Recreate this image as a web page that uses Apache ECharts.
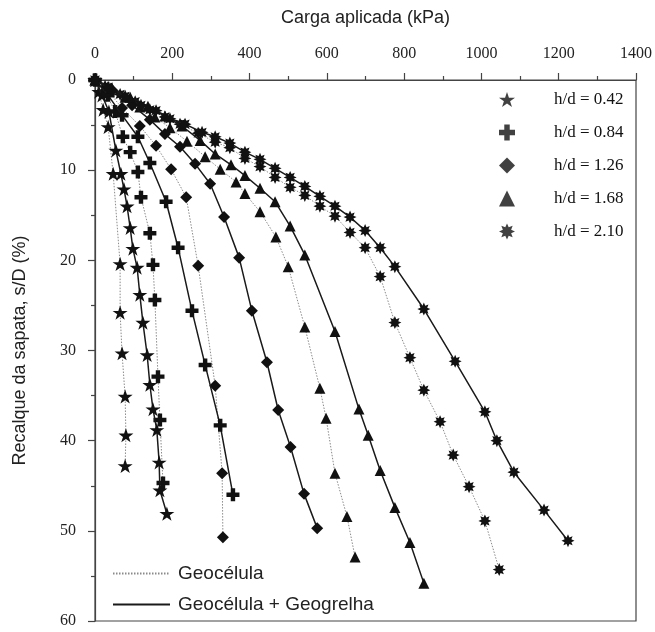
<!DOCTYPE html>
<html>
<head>
<meta charset="utf-8">
<script src="https://cdn.jsdelivr.net/npm/echarts@6/dist/echarts.min.js"></script>
<style>
  html, body { margin: 0; padding: 0; background: #fff; }
  #chart { width: 655px; height: 632px; }
</style>
</head>
<body>
<div id="chart"></div>
<script>
  // h/d ratios (legend labels)
  const hdLabels = ['h/d = 0.42', 'h/d = 0.84', 'h/d = 1.26', 'h/d = 1.68', 'h/d = 2.10']
  const lineLabels = ['Geocélula', 'Geocélula + Geogrelha']
  const xTicks = [0, 200, 400, 600, 800, 1000, 1200, 1400]
  const yTicks = [0, 10, 20, 30, 40, 50, 60]

  // Geocélula (dotted) - load (kPa) / settlement s/D (%)
  const loadG042 = [0, 10, 21, 34, 47, 65, 65, 70, 78, 80, 78]
  const settleG042 = [0, 1.3, 3.3, 5.2, 10.4, 20.4, 25.8, 30.3, 35.1, 39.4, 42.8]
  const loadG084 = [0, 26, 52, 72, 91, 111, 119, 142, 150, 155, 163, 168, 176]
  const settleG084 = [0, 1.3, 3.5, 6.3, 8.0, 10.2, 13.0, 17.0, 20.5, 24.4, 32.9, 37.7, 44.7]
  const loadG126 = [0, 31, 70, 116, 158, 197, 236, 267, 311, 329, 331]
  const settleG126 = [0, 1.1, 3.1, 5.1, 7.3, 9.9, 13.0, 20.6, 33.9, 43.6, 50.7]
  const loadG168 = [0, 39, 78, 116, 155, 194, 238, 285, 324, 365, 388, 427, 468, 500, 543, 582, 598, 621, 652, 673]
  const settleG168 = [0, 0.9, 1.9, 3.0, 4.1, 5.3, 6.8, 8.5, 9.9, 11.3, 12.6, 14.6, 17.4, 20.7, 27.4, 34.2, 37.5, 43.6, 48.4, 52.9]
  const loadG210 = [0, 26, 65, 104, 142, 181, 220, 267, 311, 349, 388, 427, 466, 505, 543, 582, 621, 660, 699, 738, 776, 815, 851, 893, 927, 968, 1009, 1046]
  const settleG210 = [0, 0.7, 1.6, 2.4, 3.3, 4.1, 4.9, 5.9, 6.9, 7.5, 8.7, 9.6, 10.8, 11.9, 12.8, 14.0, 15.1, 16.9, 18.6, 21.8, 26.9, 30.8, 34.4, 37.9, 41.6, 45.1, 48.9, 54.3]

  // Geocélula + Geogrelha (solid)
  const loadGG042 = [0, 18, 36, 54, 67, 75, 83, 91, 98, 109, 116, 124, 135, 142, 150, 160, 166, 168, 186]
  const settleGG042 = [0, 1.7, 3.5, 7.8, 10.4, 12.1, 14.0, 16.4, 18.7, 20.8, 23.8, 26.9, 30.5, 33.8, 36.5, 38.8, 42.4, 45.5, 48.1]
  const loadGG084 = [0, 34, 70, 111, 142, 184, 215, 251, 285, 324, 357]
  const settleGG084 = [0, 1.7, 3.9, 6.3, 9.2, 13.5, 18.6, 25.6, 31.6, 38.3, 46.0]
  const loadGG126 = [0, 44, 96, 142, 181, 220, 259, 298, 334, 373, 406, 445, 474, 506, 541, 575]
  const settleGG126 = [0, 1.1, 2.8, 4.4, 6.0, 7.4, 9.3, 11.5, 15.2, 19.7, 25.6, 31.3, 36.6, 40.7, 45.9, 49.7]
  const loadGG168 = [0, 44, 91, 137, 181, 225, 272, 311, 352, 388, 427, 466, 505, 543, 621, 683, 707, 738, 776, 815, 851]
  const settleGG168 = [0, 0.9, 1.9, 2.9, 4.0, 5.1, 6.7, 8.2, 9.4, 10.6, 12.0, 13.5, 16.2, 19.4, 27.9, 36.5, 39.4, 43.3, 47.4, 51.3, 55.8]
  const loadGG210 = [0, 34, 78, 119, 158, 194, 233, 277, 311, 349, 388, 427, 466, 505, 543, 582, 621, 660, 699, 738, 776, 851, 932, 1009, 1040, 1084, 1162, 1224]
  const settleGG210 = [0, 0.8, 1.8, 2.8, 3.4, 4.3, 4.9, 5.8, 6.3, 7.0, 8.0, 8.8, 9.8, 10.8, 11.8, 12.9, 14.0, 15.2, 16.7, 18.6, 20.7, 25.4, 31.2, 36.8, 40.0, 43.5, 47.7, 51.1]

  const serif = '"Liberation Serif", "DejaVu Serif", serif'
  const sans = '"Liberation Sans", Arial, sans-serif'

  const starPath = 'path://M50,0L61.8,35.3L99,35.3L69,57.1L80.4,92.5L50,70.7L19.6,92.5L31,57.1L1,35.3L38.2,35.3Z'
  const plusPath = 'path://M33,0H67V33H100V67H67V100H33V67H0V33H33Z'
  const asterPath = 'path://M50,0L60.7,24.1L85.4,14.6L75.9,39.3L100,50L75.9,60.7L85.4,85.4L60.7,75.9L50,100L39.3,75.9L14.6,85.4L24.1,60.7L0,50L24.1,39.3L14.6,14.6L39.3,24.1Z'
  const symbols = [starPath, plusPath, 'diamond', 'triangle', asterPath]
  const symbolSizes = [15, 13, 12, 11, 13]

  function zip (xs, ys) {
    return xs.map(function (x, i) { return [x, ys[i]] })
  }

  const dotted = [
    zip(loadG042, settleG042), zip(loadG084, settleG084), zip(loadG126, settleG126),
    zip(loadG168, settleG168), zip(loadG210, settleG210)
  ]
  const solid = [
    zip(loadGG042, settleGG042), zip(loadGG084, settleGG084), zip(loadGG126, settleGG126),
    zip(loadGG168, settleGG168), zip(loadGG210, settleGG210)
  ]

  const series = []
  dotted.forEach(function (d, i) {
    series.push({
      name: 'g' + i,
      type: 'line',
      data: d,
      symbol: symbols[i],
      symbolSize: symbolSizes[i],
      symbolKeepAspect: true,
      itemStyle: { color: '#111' },
      lineStyle: { color: '#8a8a8a', width: 1, type: [1.5, 1.5] },
      z: 2
    })
  })
  solid.forEach(function (d, i) {
    series.push({
      name: 'gg' + i,
      type: 'line',
      data: d,
      symbol: symbols[i],
      symbolSize: symbolSizes[i],
      symbolKeepAspect: true,
      itemStyle: { color: '#111' },
      lineStyle: { color: '#1a1a1a', width: 1.5 },
      z: 3
    })
  })
  // legend-only entries
  hdLabels.forEach(function (name, i) {
    series.push({
      name: name,
      type: 'scatter',
      data: [],
      symbol: symbols[i],
      symbolKeepAspect: true,
      itemStyle: { color: '#111' }
    })
  })
  series.push({
    name: lineLabels[0], type: 'line', data: [], symbol: 'none',
    itemStyle: { color: 'rgba(0,0,0,0)' },
    lineStyle: { color: '#8a8a8a', width: 1, type: [1.5, 1.5] }
  })
  series.push({
    name: lineLabels[1], type: 'line', data: [], symbol: 'none',
    itemStyle: { color: 'rgba(0,0,0,0)' },
    lineStyle: { color: '#1a1a1a', width: 1.5 }
  })

  const option = {
    backgroundColor: '#fff',
    animation: false,
    grid: {
      left: 95, top: 80, right: 19, bottom: 11,
      show: true, borderColor: '#444', borderWidth: 1.2
    },
    legend: [
      {
        data: hdLabels,
        orient: 'vertical',
        left: 499,
        top: 91,
        padding: 0,
        itemWidth: 16,
        itemHeight: 16,
        itemGap: 16,
        selectedMode: false,
        formatter: function (name) { return '{t|' + name + '}' },
        textStyle: {
          color: '#111',
          rich: { t: { fontFamily: serif, fontSize: 17, color: '#111', padding: [0, 0, 0, 34] } }
        }
      },
      {
        data: lineLabels,
        orient: 'vertical',
        left: 112,
        top: 564,
        padding: 0,
        itemWidth: 57,
        itemHeight: 14,
        itemGap: 12,
        selectedMode: false,
        itemStyle: { opacity: 0 },
        textStyle: { fontFamily: sans, fontSize: 19, color: '#222', padding: [0, 0, 0, 3] }
      }
    ],
    xAxis: {
      type: 'value',
      position: 'top',
      min: xTicks[0],
      max: xTicks[xTicks.length - 1],
      interval: 200,
      name: 'Carga aplicada (kPa)',
      nameLocation: 'middle',
      nameGap: 53,
      nameTextStyle: { fontFamily: sans, fontSize: 18, color: '#222' },
      axisLine: { lineStyle: { color: '#444', width: 1.2 } },
      axisTick: { show: true, inside: false, length: 7, lineStyle: { color: '#444', width: 1.2 } },
      minorTick: { show: true, splitNumber: 2, length: 4, lineStyle: { color: '#444', width: 1.2 } },
      splitLine: { show: false },
      axisLabel: {
        fontFamily: serif, fontSize: 16, color: '#222', margin: 18,
        formatter: function (v) { return String(v) }
      }
    },
    yAxis: {
      type: 'value',
      inverse: true,
      min: yTicks[0],
      max: yTicks[yTicks.length - 1],
      interval: 10,
      name: 'Recalque da sapata, s/D (%)',
      nameLocation: 'middle',
      nameGap: 66,
      nameTextStyle: { fontFamily: sans, fontSize: 18, color: '#222' },
      axisLine: { lineStyle: { color: '#444', width: 1.2 } },
      axisTick: { show: true, inside: false, length: 7, lineStyle: { color: '#444', width: 1.2 } },
      minorTick: { show: true, splitNumber: 2, length: 4, lineStyle: { color: '#444', width: 1.2 } },
      splitLine: { show: false },
      axisLabel: { fontFamily: serif, fontSize: 16, color: '#222', margin: 19 }
    },
    series: series
  }

  const chart = echarts.init(document.getElementById('chart'), null, { renderer: 'canvas' })
  chart.setOption(option)
</script>
</body>
</html>
